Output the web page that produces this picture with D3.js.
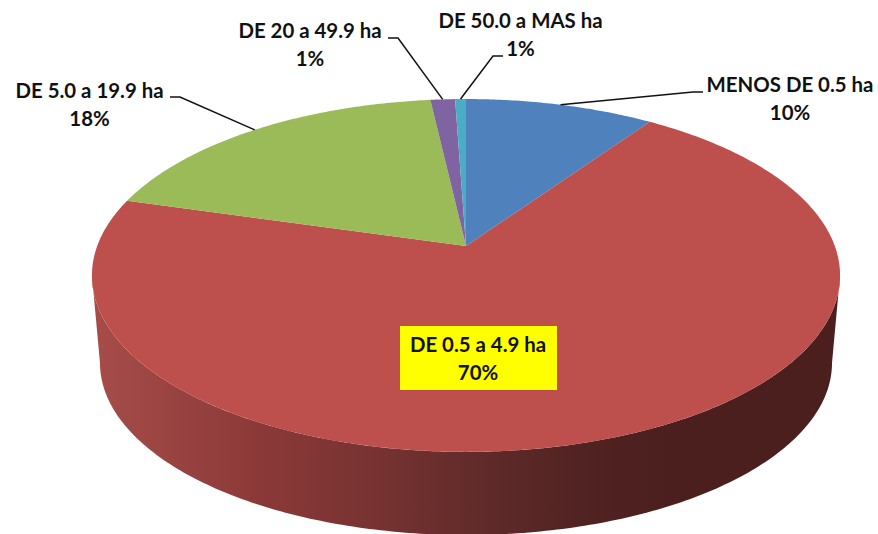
<!DOCTYPE html>
<html>
<head>
<meta charset="utf-8">
<script src="https://cdn.jsdelivr.net/npm/d3@7"></script>
<style>
html,body{margin:0;padding:0;background:#fff;overflow:hidden}
text{font-family:Lato,"Open Sans",sans-serif;font-weight:700;fill:#111}
</style>
</head>
<body>
<svg id="c" width="878" height="534"></svg>
<script>
// Data
const categories = ["MENOS DE 0.5 ha","DE 0.5 a 4.9 ha","DE 5.0 a 19.9 ha","DE 20 a 49.9 ha","DE 50.0 a MAS ha"];
const sliceValues = [9.6,69.85,18.75,1.25,0.55];
const percentLabels = ["10%","70%","18%","1%","1%"];
const sliceColors = ["#4f81bd","#bd4f4c","#9bbb59","#8064a2","#4bacc6"];

// Label layout: text centre, first baseline, leader elbow and leader end
const labelX = [790,478,89.5,310,520.5];
const labelY = [92,352,98,38,28];
const elbows = [[693,92,703,92],null,[180,97,170,97],[398,38,388,38],[493,56,503,56]];
const wallStops = [[100,"#a54c49"],[260,"#8b3938"],[380,"#763231"],[480,"#602b2a"],[580,"#512322"],[680,"#4a1f1e"],[840,"#4a1f1e"]];

const svg = d3.select("#c");
const cx=466, apexY=246, A=368.8, B=171.5, k=0.167;
const scaleX=d3.scaleLinear().domain([-1,1]).range([cx-A,cx+A]);
const scaleY=d3.scaleLinear().domain([-1,1]).range([apexY+B,apexY-B]);
const project=t=>{const w=1+k*Math.cos(t);return [scaleX(Math.sin(t)/w),scaleY(Math.cos(t)/w)];};
const lineGen=d3.line();
const arcPts=(a,b,step=0.01)=>{const n=Math.max(2,Math.ceil((b-a)/step));return d3.range(n+1).map(i=>project(a+(b-a)*i/n));};

const pie=d3.pie().sort(null).value(d=>d)(sliceValues);

// Wall: front-facing part of the pie, only the red slice reaches it
const grad=svg.append("defs").append("linearGradient").attr("id","wall").attr("gradientUnits","userSpaceOnUse")
  .attr("x1",100).attr("x2",840).attr("y1",0).attr("y2",0);
wallStops.forEach(s=>grad.append("stop").attr("offset",(s[0]-100)/740).attr("stop-color",s[1]));
const t0=Math.acos(-k), t1=2*Math.PI-t0;
const rimPts=arcPts(t0,t1);
const botCx=466,botCy=363,botRx=366,botRy=172;
const bottomPts=d3.range(0,201).map(i=>{const a=Math.PI*i/200;return [botCx-botRx*Math.cos(a),botCy+botRy*Math.sin(a)];});
svg.append("path").attr("d",lineGen(rimPts.concat(bottomPts))+"Z").attr("fill","url(#wall)");

// Top face
svg.selectAll("path.slice").data(pie).join("path").attr("class","slice")
  .attr("fill",(d,i)=>sliceColors[i])
  .attr("d",d=>lineGen([[cx,apexY]].concat(arcPts(d.startAngle,d.endAngle)))+"Z");

// Leaders
svg.selectAll("path.leader").data(pie.filter((d,i)=>elbows[i])).join("path").attr("class","leader")
  .attr("fill","none").attr("stroke","#111").attr("stroke-width",1.5)
  .attr("d",d=>{const e=elbows[d.index];return lineGen([project((d.startAngle+d.endAngle)/2),[e[0],e[1]],[e[2],e[3]]]);});

// Highlight behind the big label
svg.append("rect").attr("x",400).attr("y",326).attr("width",157).attr("height",64).attr("fill","#ffff00");

// Labels
const g=svg.selectAll("text.l").data(categories).join("text").attr("class","l")
  .attr("text-anchor","middle").attr("font-size",20.4);
g.append("tspan").attr("x",(d,i)=>labelX[i]).attr("y",(d,i)=>labelY[i]).text(d=>d);
g.append("tspan").attr("x",(d,i)=>labelX[i]).attr("y",(d,i)=>labelY[i]+28).text((d,i)=>percentLabels[i]);
</script>
</body>
</html>
